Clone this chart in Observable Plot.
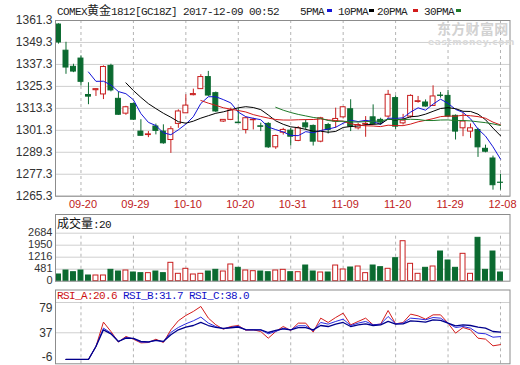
<!DOCTYPE html>
<html><head><meta charset="utf-8">
<script src="https://cdn.jsdelivr.net/npm/d3@7"></script>
<script src="https://cdn.jsdelivr.net/npm/@observablehq/plot@0.6"></script>
<style>
html,body{margin:0;padding:0;background:#fff;}
#wrap{position:relative;width:520px;height:365px;overflow:hidden;background:#fff;}
#wrap svg{position:absolute;left:0;top:0;}
.t{position:absolute;white-space:pre;line-height:14px;}
.m{font-family:"Liberation Mono","DejaVu Sans Mono",monospace;font-size:11px;letter-spacing:-0.6px;}
.c{font-family:"Noto Sans CJK SC",sans-serif;font-size:12px;}
.sw{position:absolute;width:5px;height:3px;top:9px;}
</style></head><body><div id="wrap"></div>
<script>
// ---- data ----
const dateLabels = ["09-20","09-29","10-10","10-20","10-31","11-09","11-20","11-29","12-08"];
const labelIdx = [3,10,17,24,31,38,45,52,59];
const open  = [1359.1,1344.8,1336.0,1340.5,1320.6,1323.2,1320.9,1336.5,1318.5,1310.4,
               1315.7,1300.6,1298.7,1303.4,1300.6,1296.0,1304.8,1310.6,1320.5,1323.8,
               1330.4,1321.6,1306.1,1307.0,1305.5,1301.5,1306.8,1303.5,1304.8,1292.0,
               1300.0,1301.1,1295.5,1305.1,1303.7,1295.1,1304.2,1306.1,1308.4,1312.8,
               1302.4,1304.5,1308.4,1307.0,1308.8,1318.9,1305.1,1308.8,1316.8,1316.5,
               1314.6,1320.3,1320.1,1309.2,1302.4,1300.6,1301.5,1291.2,1285.9,1272.7];
const high  = [1359.5,1349.4,1337.4,1342.0,1327.3,1324.0,1336.5,1337.4,1322.3,1314.4,
               1316.3,1307.1,1300.6,1304.7,1304.3,1303.3,1312.5,1320.7,1323.8,1331.7,
               1333.5,1322.2,1307.0,1313.4,1313.4,1308.4,1307.9,1305.2,1305.5,1298.7,
               1302.4,1302.4,1303.3,1307.0,1304.2,1308.4,1305.1,1313.4,1314.3,1318.0,
               1305.1,1308.8,1315.2,1307.9,1323.1,1320.1,1310.0,1320.7,1319.8,1317.9,
               1325.6,1322.0,1323.1,1309.7,1310.6,1304.8,1302.4,1293.2,1287.2,1277.3];
const low   = [1348.4,1331.9,1332.8,1325.5,1315.3,1319.8,1318.1,1322.3,1309.5,1309.5,
               1306.7,1298.3,1297.3,1298.8,1293.7,1288.7,1302.4,1310.6,1320.1,1323.8,
               1319.8,1311.0,1305.6,1306.6,1305.2,1299.3,1301.5,1300.6,1291.4,1290.9,
               1298.7,1292.7,1295.1,1301.5,1292.7,1294.5,1299.3,1302.4,1307.9,1300.6,
               1301.5,1297.5,1304.2,1304.2,1307.9,1301.8,1304.2,1307.9,1316.1,1313.9,
               1314.3,1318.9,1308.4,1296.0,1297.8,1296.9,1286.5,1289.0,1268.6,1268.6];
const close = [1349.3,1335.6,1333.4,1327.8,1319.7,1323.8,1335.9,1323.1,1309.8,1313.9,
               1307.1,1298.3,1299.1,1301.0,1294.2,1301.9,1311.6,1314.8,1321.1,1330.4,
               1320.3,1311.6,1307.0,1312.1,1305.2,1307.9,1307.1,1303.2,1292.0,1298.2,
               1301.5,1297.8,1302.4,1302.9,1295.1,1307.9,1301.5,1307.5,1313.9,1303.3,
               1304.2,1304.8,1304.6,1305.5,1320.7,1303.3,1306.6,1320.1,1317.2,1314.3,
               1319.8,1320.1,1308.8,1300.6,1306.1,1302.4,1292.0,1289.6,1271.3,1272.6];
const volume = [375,598,503,598,319,319,319,636,542,598,
                486,450,450,542,450,1028,413,693,375,413,
                542,636,542,934,749,598,560,542,503,598,
                636,503,503,877,542,486,486,877,654,766,
                822,450,877,784,693,1286,2236,972,413,749,
                822,1660,1157,749,1531,413,2426,636,1660,486];
const rsiA = [null,0,0,0,0,18,51.8,38.8,24.1,31.9,
              28.1,23,23.5,28.1,23.5,41.1,53.7,61.0,66.6,73.5,
              57.4,48.1,42,45.7,47.1,40.5,41.1,38.8,29.5,38.8,
              45.7,40.2,50.4,50.4,37.9,57.3,51.3,58.2,64.2,48.0,
              52.7,57.3,48.0,49.0,67.9,49.4,51.3,62.9,60.5,55.9,
              61.9,61.9,50.4,36.5,44.3,41.1,29.5,28.2,18.9,20.6];
const rsiB = [null,0,0,0,0,18,43.5,36.6,24.9,30.5,
              28.9,24,24,26.5,24.5,37.5,44.4,49.5,53.6,58.8,
              50.5,45.7,42.5,44.4,46,41,41.1,41.1,35.6,38.8,
              43.4,41.1,46.7,46.7,39.7,51.3,49.0,52.7,55.9,47.1,
              50.4,52.7,48.0,49.0,59.6,49.4,50.4,57.3,56.4,55.0,
              58.2,57.3,50.4,44.3,45.7,43.4,36.5,35.6,30.9,31.7];
const rsiC = [null,0,0,0,0,18,41.1,35.5,24.9,29.7,
              29.3,25,24.5,26.5,25,34.2,41.1,44.9,47.1,51.3,
              47.1,44.4,43,44,45,41.5,41.1,41.1,37.4,40.2,
              42.5,41.1,44.3,44.3,41.1,47.1,45.7,49.0,51.3,45.7,
              48.0,49.4,47.1,48.0,52.7,49.0,49.4,53.6,52.7,51.7,
              55.0,54.1,50.4,46.7,48.0,47.1,44.8,43.4,38.8,38.0];
const priceTicks = [1361.3,1349.3,1337.3,1325.3,1313.3,1301.3,1289.3,1277.3,1265.3];
const volTicks = [2684,2013,1342,671,0];
const volTickLabels = ["2684","1950","1216","481","0"];
const rsiTicks = [79,37,-6];
const maPeriods = [5,10,20,30];
const maNames = ["5PMA","10PMA","20PMA","30PMA"];
const maColors = ["#1414d8","#000000","#d21a1a","#1f7a2a"];

// ---- styling ----
const RED = "#c81e1e", GREEN = "#0b6a30", GRID = "#cfcfcf", DASH = "#b4b4b4", FRAME = "#8c8c8c";
const rows = open.map((o, i) => ({i, open: o, high: high[i], low: low[i], close: close[i], vol: volume[i], up: close[i] > open[i]}));
const col = d => d.up ? RED : GREEN;
const W = 520, H = 365, ML = 55, MR = 10.5;
const xDom = [-0.4, 60.27];
const base = {width: W, height: H, marginLeft: ML, marginRight: MR,
  style: {background: "transparent", overflow: "visible", fontFamily: "'Liberation Sans', Arial, sans-serif"},
  color: {type: "identity"}};
const wrap = document.getElementById("wrap");

// price panel
const price = Plot.plot({...base, marginTop: 20, marginBottom: H - 195.7,
  x: {domain: xDom, axis: null},
  y: {domain: [1265.3, 1361.3], axis: null},
  marks: [
    Plot.ruleY(priceTicks, {y: d => d, stroke: GRID}),
    Plot.ruleX(labelIdx, {x: d => d, stroke: DASH, strokeDasharray: "3,3"}),
    Plot.text(priceTicks, {y: d => d, text: d => d.toFixed(1), frameAnchor: "left", textAnchor: "end", dx: -3, fill: "#333", fontSize: 12}),
    Plot.text(labelIdx, {x: d => d, text: (d, k) => dateLabels[k], frameAnchor: "bottom", dy: 11.5, dx: 2, fill: "#c02020", fontSize: 11}),
    Plot.ruleX(rows, {x: "i", y1: "low", y2: "high", stroke: col}),
    Plot.rect(rows, {x1: d => d.i - 0.33, x2: d => d.i + 0.33, y1: "open", y2: "close", fill: d => d.up ? "white" : GREEN, stroke: col}),
    ...maPeriods.map((k, j) => Plot.lineY(rows, Plot.windowY({k, anchor: "end", strict: true}, {x: "i", y: "close", stroke: maColors[j], strokeWidth: 1}))),
    Plot.frame({stroke: FRAME})
  ]});
wrap.appendChild(price);

// volume panel
const volTop = 2684 * (280.7 - 214) / (280.7 - 232.7);
const vol = Plot.plot({...base, marginTop: 214, marginBottom: H - 280.7,
  x: {domain: xDom, axis: null},
  y: {domain: [0, volTop], axis: null},
  marks: [
    Plot.ruleY(volTicks.slice(0, 4), {y: d => d, stroke: GRID}),
    Plot.ruleX(labelIdx, {x: d => d, y1: 0, y2: 2684, stroke: DASH, strokeDasharray: "3,3"}),
    Plot.text(volTicks, {y: d => d, text: (d, k) => volTickLabels[k], frameAnchor: "left", textAnchor: "end", dx: -3, dy: -0.5, fill: "#333", fontSize: 11}),
    Plot.rect(rows, {x1: d => d.i - 0.33, x2: d => d.i + 0.33, y1: 0, y2: "vol", fill: d => d.up ? "white" : GREEN, stroke: col}),
    Plot.frame({stroke: FRAME})
  ]});
wrap.appendChild(vol);

// RSI panel
const rsiTop = 79 + (302 - 289.5) * 85 / (363.3 - 302);
const rsiDy = [6, 0, -7];
const rsi = Plot.plot({...base, marginTop: 289.5, marginBottom: H - 363.3,
  x: {domain: xDom, axis: null},
  y: {domain: [-6, rsiTop], axis: null},
  marks: [
    Plot.ruleY(rsiTicks.slice(0, 2), {y: d => d, stroke: GRID}),
    Plot.ruleX(labelIdx, {x: d => d, y1: -6, y2: 79, stroke: DASH, strokeDasharray: "3,3"}),
    ...rsiTicks.map((t, k) => Plot.text([t], {y: d => d, text: d => String(d), frameAnchor: "left", textAnchor: "end", dx: -3, dy: rsiDy[k], fill: "#333", fontSize: 12})),
    Plot.lineY(rsiA, {x: (d, i) => i, y: d => d, stroke: "#d41c1c", strokeWidth: 1}),
    Plot.lineY(rsiB, {x: (d, i) => i, y: d => d, stroke: "#2a2ae0", strokeWidth: 1}),
    Plot.lineY(rsiC, {x: (d, i) => i, y: d => d, stroke: "#00008c", strokeWidth: 1.3}),
    Plot.frame({stroke: FRAME})
  ]});
wrap.appendChild(rsi);

// texts
function addDiv(html, left, top, extra) {
  const d = document.createElement("div");
  d.className = "t"; d.style.left = left + "px"; d.style.top = top + "px";
  if (extra) Object.assign(d.style, extra);
  d.innerHTML = html; wrap.appendChild(d); return d;
}
addDiv('<span class="m">COMEX</span><span class="c">黄金</span><span class="m">1812[GC18Z] 2017-12-09 00:52</span>', 57, 3, {color: "#222"});
const legX = [300, 338, 377, 424], swX = [327, 369, 413, 456];
maNames.forEach((n, j) => {
  addDiv('<span class="m">' + n + '</span>', legX[j], 3, {color: "#222"});
  const s = document.createElement("div"); s.className = "sw";
  s.style.left = swX[j] + "px"; s.style.background = maColors[j]; wrap.appendChild(s);
});
addDiv('<span class="c">成交量</span><span class="m">:20</span>', 57, 216, {color: "#111"});
addDiv('<span class="m" style="color:#cc1010">RSI_A:20.6 </span><span class="m" style="color:#1010c8">RSI_B:31.7 RSI_C:38.0</span>', 57, 287);
// watermark
addDiv('东方财富网', 437, 21, {fontFamily: "'Noto Sans CJK SC',sans-serif", fontWeight: "bold", fontSize: "14px", color: "#d2d2d2", letterSpacing: "0.3px"});
addDiv('eastmoney.com', 428, 35, {fontFamily: "'DejaVu Sans',sans-serif", fontWeight: "bold", fontSize: "9px", color: "#dadada", letterSpacing: "0.6px"});
</script></body></html>
